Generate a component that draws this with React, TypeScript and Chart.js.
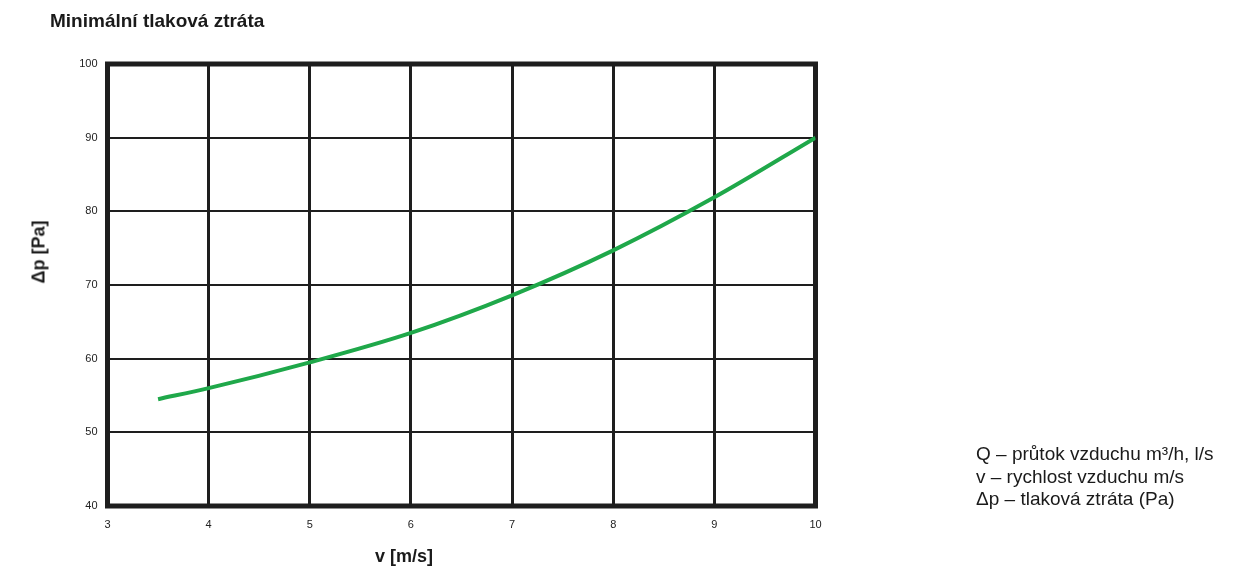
import React, { useEffect, useRef } from "react";
import { Chart, registerables } from "chart.js";

Chart.register(...registerables);

const chartTitle = "Minimální tlaková ztráta";
const xAxisTitle = "v [m/s]";
const yAxisTitle = "Δp [Pa]";
const legendLines = [
  "Q – průtok vzduchu m³/h, l/s",
  "v – rychlost vzduchu m/s",
  "Δp – tlaková ztráta (Pa)",
];

const velocity = [3.5, 4, 5, 6, 7, 8, 9, 10];
const pressureLoss = [54.5, 56.0, 59.5, 63.5, 68.6, 74.7, 81.9, 90.0];

const xMin = 3;
const xMax = 10;
const yMin = 40;
const yMax = 100;

const frameColor = "#1e1e1e";
const lineColor = "#1fa84a";
const fontFamily = "'Liberation Sans', Arial, Helvetica, sans-serif";

const framePlugin = {
  id: "frame",
  beforeDatasetsDraw(chart: any) {
    const { ctx, chartArea } = chart;
    ctx.save();
    ctx.strokeStyle = frameColor;
    ctx.lineWidth = 5;
    ctx.strokeRect(
      chartArea.left,
      chartArea.top,
      chartArea.right - chartArea.left,
      chartArea.bottom - chartArea.top
    );
    ctx.restore();
  },
};

export default function App() {
  const canvasRef = useRef<HTMLCanvasElement | null>(null);

  useEffect(() => {
    document.body.style.margin = "0";
    const canvas = canvasRef.current;
    if (!canvas) return;
    const chart = new Chart(canvas, {
      type: "line",
      data: {
        datasets: [
          {
            data: velocity.map((v, i) => ({ x: v, y: pressureLoss[i] })),
            borderColor: lineColor,
            borderWidth: 4,
            pointRadius: 0,
            fill: false,
            cubicInterpolationMode: "monotone",
          },
        ],
      },
      options: {
        responsive: false,
        animation: false,
        events: [],
        layout: {
          padding: { left: 47.5, top: 64, right: 417.5, bottom: 47 },
        },
        plugins: {
          legend: { display: false },
          tooltip: { enabled: false },
          title: { display: false },
        },
        scales: {
          x: {
            type: "linear",
            min: xMin,
            max: xMax,
            afterFit(scale: any) {
              scale.height = 30;
            },
            border: { display: false },
            grid: {
              drawTicks: false,
              color: frameColor,
              lineWidth: (ctx: any) =>
                ctx.tick && (ctx.tick.value === xMin || ctx.tick.value === xMax) ? 0 : 3,
            },
            ticks: {
              stepSize: 1,
              padding: 12,
              color: "#222",
              font: { family: fontFamily, size: 11 },
            },
          },
          y: {
            type: "linear",
            min: yMin,
            max: yMax,
            afterFit(scale: any) {
              scale.width = 60;
            },
            border: { display: false },
            grid: {
              drawTicks: false,
              color: frameColor,
              lineWidth: (ctx: any) =>
                ctx.tick && (ctx.tick.value === yMin || ctx.tick.value === yMax) ? 0 : 2,
            },
            ticks: {
              stepSize: 10,
              padding: 10,
              color: "#222",
              font: { family: fontFamily, size: 11 },
            },
          },
        },
      },
      plugins: [framePlugin],
    });
    return () => chart.destroy();
  }, []);

  const textBase: React.CSSProperties = {
    position: "absolute",
    fontFamily,
    color: "#1a1a1a",
    whiteSpace: "nowrap",
  };

  return (
    <div style={{ position: "relative", width: 1233, height: 583, background: "#fff" }}>
      <canvas ref={canvasRef} width={1233} height={583} style={{ position: "absolute", left: 0, top: 0 }} />
      <div style={{ ...textBase, left: 50, top: 10, fontSize: 19, fontWeight: "bold" }}>{chartTitle}</div>
      <div
        style={{
          ...textBase,
          left: 404,
          top: 556,
          fontSize: 18,
          fontWeight: "bold",
          transform: "translate(-50%, -50%)",
        }}
      >
        {xAxisTitle}
      </div>
      <div
        style={{
          ...textBase,
          left: 38.5,
          top: 252,
          fontSize: 18,
          fontWeight: "bold",
          transform: "translate(-50%, -50%) rotate(-90deg)",
        }}
      >
        {yAxisTitle}
      </div>
      <div style={{ ...textBase, left: 976, top: 443, fontSize: 19, lineHeight: "22.5px" }}>
        {legendLines.map((l, i) => (
          <div key={i}>{l}</div>
        ))}
      </div>
    </div>
  );
}
